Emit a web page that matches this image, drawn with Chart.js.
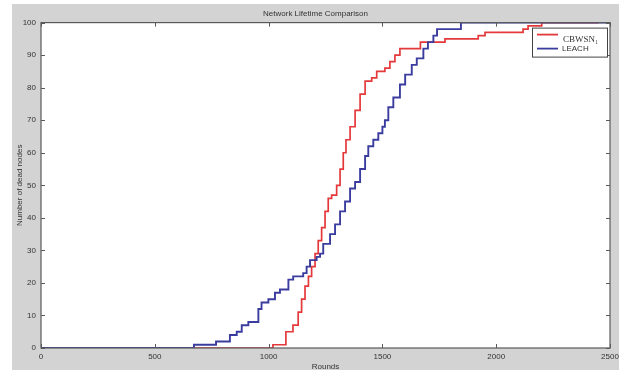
<!DOCTYPE html>
<html>
<head>
<meta charset="utf-8">
<script src="https://cdn.jsdelivr.net/npm/chart.js@4.4.0/dist/chart.umd.min.js"></script>
<style>
  html, body { margin: 0; padding: 0; background: #fff; }
  #wrap { position: absolute; left: 12px; top: 4px; width: 607px; height: 366px; background: #d3d3d3; }
</style>
</head>
<body>
<div id="wrap"><canvas id="lifetimeChart"></canvas></div>
<script>
// axis ticks
const roundTicks = [0, 500, 1000, 1500, 2000, 2500];
const deadTicks = [0, 10, 20, 30, 40, 50, 60, 70, 80, 90, 100];

// CBWSN1 - round at which the dead count steps up, and the new count
const cbwsnRounds = [0, 1019, 1076, 1107, 1130, 1145, 1160, 1175, 1189, 1204, 1218, 1233, 1248, 1262, 1277, 1299, 1314, 1328, 1340, 1358, 1380, 1402, 1424, 1453, 1475, 1511, 1533, 1555, 1577, 1667, 1775, 1921, 1951, 2118, 2140, 2200, 2450];
const cbwsnDead   = [0, 1, 5, 7, 11, 15, 19, 22, 25, 29, 33, 37, 42, 46, 47, 50, 55, 60, 64, 68, 73, 78, 82, 83, 85, 86, 88, 90, 92, 94, 95, 96, 97, 98, 99, 100, 100];

// LEACH
const leachRounds = [0, 672, 769, 830, 860, 882, 911, 955, 969, 999, 1028, 1050, 1087, 1108, 1152, 1167, 1182, 1211, 1226, 1240, 1270, 1292, 1314, 1336, 1358, 1380, 1402, 1424, 1438, 1460, 1482, 1500, 1511, 1526, 1548, 1577, 1600, 1629, 1651, 1680, 1700, 1724, 1740, 1845, 2500];
const leachDead   = [0, 1, 2, 4, 5, 7, 8, 12, 14, 15, 17, 18, 21, 22, 23, 25, 27, 28, 29, 32, 35, 38, 42, 45, 49, 51, 55, 59, 62, 64, 66, 68, 70, 74, 77, 81, 84, 87, 89, 92, 94, 96, 98, 100, 100];

const seriesNames = ['CBWSN\u2081', 'LEACH'];
const seriesColors = ['#e4393b', '#3b3d9e'];

function toPoints(xs, ys) {
    return xs.map(function (x, i) { return { x: x, y: ys[i] }; });
}

const axisFont = { family: 'Liberation Sans, Arial, sans-serif', size: 8 };

// white plot area, MATLAB-style box with inward ticks, boxed legend
const axesBox = {
    id: 'axesBox',
    beforeDatasetsDraw(chart) {
        const a = chart.chartArea;
        const ctx = chart.ctx;
        ctx.save();
        ctx.fillStyle = '#ffffff';
        ctx.fillRect(a.left, a.top, a.right - a.left, a.bottom - a.top);
        ctx.restore();
    },
    afterDatasetsDraw(chart) {
        const a = chart.chartArea;
        const ctx = chart.ctx;
        const xs = chart.scales.x;
        const ys = chart.scales.y;
        ctx.save();
        ctx.strokeStyle = '#5a5a5a';
        ctx.lineWidth = 1.2;
        ctx.strokeRect(a.left, a.top, a.right - a.left, a.bottom - a.top);
        ctx.lineWidth = 1;
        ctx.beginPath();
        roundTicks.forEach(function (v) {
            const px = Math.round(xs.getPixelForValue(v)) + 0.5;
            ctx.moveTo(px, a.bottom); ctx.lineTo(px, a.bottom - 4);
            ctx.moveTo(px, a.top); ctx.lineTo(px, a.top + 4);
        });
        deadTicks.forEach(function (v) {
            const py = Math.round(ys.getPixelForValue(v)) + 0.5;
            ctx.moveTo(a.left, py); ctx.lineTo(a.left + 4, py);
            ctx.moveTo(a.right, py); ctx.lineTo(a.right - 4, py);
        });
        ctx.stroke();

        // legend
        const w = 75, h = 29;
        const bx = a.right - 3 - w;
        const by = a.top + 5;
        ctx.fillStyle = '#ffffff';
        ctx.fillRect(bx, by, w, h);
        ctx.strokeStyle = '#444';
        ctx.strokeRect(bx + 0.5, by + 0.5, w, h);
        const ds = chart.data.datasets;
        const rows = [by + 7, by + 21];
        ds.forEach(function (d, i) {
            ctx.strokeStyle = d.borderColor;
            ctx.lineWidth = 1.8;
            ctx.beginPath();
            ctx.moveTo(bx + 5, rows[i]);
            ctx.lineTo(bx + 26, rows[i]);
            ctx.stroke();
        });
        ctx.fillStyle = '#333';
        ctx.textBaseline = 'middle';
        ctx.font = '9px "Liberation Serif", serif';
        ctx.fillText(ds[0].label, bx + 31, rows[0] + 5);
        ctx.font = '8px "Liberation Sans", sans-serif';
        ctx.fillText(ds[1].label, bx + 30, rows[1]);
        ctx.restore();
    }
};

new Chart(document.getElementById('lifetimeChart').getContext('2d'), {
    type: 'line',
    data: {
        datasets: [
            {
                label: seriesNames[0],
                data: toPoints(cbwsnRounds, cbwsnDead),
                borderColor: seriesColors[0],
                borderWidth: 1.7,
                stepped: true,
                pointRadius: 0,
                order: 1
            },
            {
                label: seriesNames[1],
                data: toPoints(leachRounds, leachDead),
                borderColor: seriesColors[1],
                borderWidth: 1.9,
                stepped: true,
                pointRadius: 0,
                order: 0
            }
        ]
    },
    options: {
        responsive: true,
        maintainAspectRatio: false,
        animation: false,
        layout: { padding: { left: 0, right: 0, top: 0, bottom: 0 } },
        plugins: {
            legend: { display: false },
            tooltip: { enabled: false },
            title: {
                display: true,
                text: 'Network Lifetime Comparison',
                color: '#333',
                font: { family: 'Liberation Sans, Arial, sans-serif', size: 8, weight: 'normal' },
                padding: { top: 5, bottom: 4 }
            }
        },
        scales: {
            x: {
                type: 'linear',
                min: 0,
                max: 2500,
                afterBuildTicks: function (scale) {
                    scale.ticks = roundTicks.map(function (v) { return { value: v }; });
                },
                afterFit: function (scale) {
                    scale.height = 22;
                    scale.paddingRight = 9;
                    scale.paddingLeft = 0;
                },
                grid: { display: false, drawTicks: false },
                border: { display: false },
                ticks: {
                    color: '#333', font: axisFont, padding: 4, maxRotation: 0,
                    callback: function (v) { return String(v); }
                },
                title: { display: true, text: 'Rounds', color: '#333', font: axisFont, padding: { top: 0, bottom: -2 } }
            },
            y: {
                type: 'linear',
                min: 0,
                max: 100,
                afterBuildTicks: function (scale) {
                    scale.ticks = deadTicks.map(function (v) { return { value: v }; });
                },
                afterFit: function (scale) { scale.width = 29; },
                grid: { display: false, drawTicks: false },
                border: { display: false },
                ticks: {
                    color: '#333', font: axisFont, padding: 5,
                    callback: function (v) { return String(v); }
                },
                title: { display: true, text: 'Number of dead nodes', color: '#333', font: axisFont, padding: { top: 3, bottom: 0 } }
            }
        }
    },
    plugins: [axesBox]
});
</script>
</body>
</html>
